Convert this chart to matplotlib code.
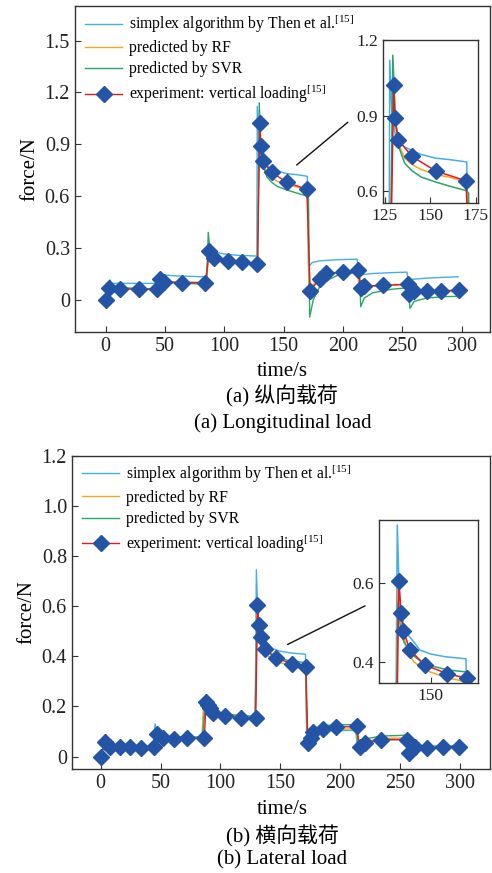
import matplotlib
matplotlib.use("Agg")
import matplotlib.pyplot as plt
from matplotlib.patches import ConnectionPatch

plt.rcParams['font.family'] = ['Liberation Serif', 'Noto Sans CJK SC']
plt.rcParams['mathtext.fontset'] = 'custom'
plt.rcParams['mathtext.rm'] = 'Liberation Serif'

# ---- (a) longitudinal load ----
exp_t_a = [0, 2.5, 12, 28, 43, 46, 49, 64, 84, 87.5, 91, 103, 115, 128, 130, 130.6, 132.5, 140, 153, 169.6,
           172.4, 180.5, 186, 200, 213, 215, 218, 234, 255, 256, 260, 271, 283, 298]
exp_f_a = [0, 0.068, 0.062, 0.062, 0.062, 0.122, 0.104, 0.100, 0.100, 0.283, 0.240, 0.226, 0.220, 0.207,
           1.023, 0.890, 0.803, 0.737, 0.679, 0.640, 0.052, 0.122, 0.153, 0.159, 0.170, 0.068, 0.080,
           0.083, 0.091, 0.033, 0.048, 0.052, 0.052, 0.056]

simp_t_a = [0, 3, 43, 45, 50, 60, 85, 87, 90, 100, 110, 127.5, 127.8, 129, 131, 133, 136, 140, 145, 153, 160,
            170, 171, 174, 180, 195, 212, 213, 216, 225, 240, 254, 255, 258, 270, 285, 297]
simp_f_a = [0, 0.095, 0.095, 0.155, 0.143, 0.138, 0.133, 0.30, 0.28, 0.265, 0.258, 0.253, 1.12, 0.90, 0.82,
            0.79, 0.775, 0.76, 0.745, 0.73, 0.725, 0.715, 0.19, 0.215, 0.225, 0.232, 0.235, 0.13, 0.145,
            0.152, 0.157, 0.16, 0.11, 0.118, 0.125, 0.13, 0.133]

rf_t_a = [0, 3, 10, 43, 45, 50, 85, 87, 90, 100, 128, 129.5, 131, 133, 136, 140, 145, 153, 160, 170, 171.5,
          174, 180, 190, 212, 214, 218, 235, 255, 256.5, 260, 275, 297]
rf_f_a = [0, 0.07, 0.065, 0.058, 0.11, 0.105, 0.098, 0.28, 0.25, 0.228, 0.21, 1.0, 0.86, 0.78, 0.73, 0.705,
          0.685, 0.665, 0.655, 0.635, 0.03, 0.08, 0.125, 0.155, 0.165, 0.06, 0.075, 0.082, 0.088, 0.03,
          0.04, 0.045, 0.048]

svr_t_a = [0, 2, 3.5, 6, 15, 43, 45, 48, 85, 86.5, 88, 91, 100, 128, 129.5, 131, 133, 136, 140, 145, 153, 160,
           170, 171, 172, 175, 180, 186, 195, 212, 214, 215, 218, 225, 240, 255, 256.5, 260, 270, 285, 297]
svr_f_a = [0, 0.06, 0.115, 0.08, 0.07, 0.06, 0.11, 0.10, 0.09, 0.39, 0.28, 0.235, 0.22, 0.205, 1.14, 0.88,
           0.77, 0.71, 0.68, 0.655, 0.635, 0.62, 0.60, 0.59, -0.10, 0.0, 0.07, 0.11, 0.14, 0.16, 0.16,
           -0.04, 0.01, 0.04, 0.06, 0.07, -0.05, -0.01, 0.01, 0.018, 0.02]

# ---- (b) lateral load ----
exp_t_b = [0, 3.9, 8, 15.9, 24.2, 33.4, 44.5, 46.8, 52, 61, 72.4, 86.6, 88, 89.7, 91.6, 94.1, 104.2, 117.5,
           129.5, 130.9, 132.3, 133.7, 137.6, 146.5, 159.8, 171.3, 173, 175.2, 177.4, 185.2, 196.6, 213.9,
           216.1, 220.8, 233.9, 255.6, 257.6, 262.3, 272, 285.5, 299]
exp_f_b = [0, 0.06, 0.04, 0.039, 0.039, 0.036, 0.039, 0.092, 0.075, 0.072, 0.074, 0.074, 0.218, 0.205, 0.194,
           0.174, 0.16, 0.154, 0.154, 0.604, 0.523, 0.478, 0.43, 0.392, 0.371, 0.359, 0.056, 0.074, 0.099,
           0.111, 0.118, 0.12, 0.04, 0.055, 0.068, 0.068, 0.016, 0.038, 0.034, 0.038, 0.038]

simp_t_b = [0, 3, 10, 44, 45.5, 47, 52, 85, 86.5, 90, 100, 129, 130, 131, 132, 134, 137, 140, 143.5, 150,
            159, 171, 172, 175, 180, 190, 213, 214, 218, 230, 255, 256.5, 260, 275, 298]
simp_f_b = [0, 0.05, 0.04, 0.04, 0.13, 0.09, 0.08, 0.075, 0.2, 0.18, 0.165, 0.155, 0.745, 0.60, 0.53, 0.49,
            0.465, 0.45, 0.43, 0.42, 0.413, 0.408, 0.06, 0.085, 0.095, 0.103, 0.105, 0.045, 0.055, 0.065,
            0.068, 0.02, 0.03, 0.035, 0.038]

rf_t_b = [0, 3, 10, 44, 46, 50, 84.5, 86, 90, 100, 129, 130.5, 132, 134, 137, 140, 146, 160, 171, 172.5, 175,
          180, 190, 213, 215, 220, 235, 255, 257, 262, 280, 298]
rf_f_b = [0, 0.05, 0.04, 0.038, 0.085, 0.078, 0.075, 0.21, 0.19, 0.17, 0.155, 0.6, 0.52, 0.46, 0.42, 0.40,
          0.38, 0.36, 0.35, 0.05, 0.055, 0.09, 0.105, 0.112, 0.045, 0.06, 0.072, 0.075, 0.025, 0.032,
          0.035, 0.036]

svr_t_b = [0, 3, 10, 44, 46, 50, 85, 87, 90, 100, 129, 130.5, 132, 134, 137, 140, 146, 160, 171, 172.5, 175,
           180, 190, 213, 215, 220, 235, 255, 257, 262, 280, 298]
svr_f_b = [0, 0.05, 0.04, 0.04, 0.08, 0.078, 0.078, 0.19, 0.18, 0.17, 0.16, 0.55, 0.48, 0.45, 0.43, 0.415,
           0.395, 0.38, 0.375, 0.07, 0.09, 0.11, 0.125, 0.128, 0.055, 0.07, 0.082, 0.085, 0.035, 0.04,
           0.042, 0.043]

labels = ['simplex algorithm by Then et al.$^{[15]}$', 'predicted by RF', 'predicted by SVR',
          'experiment: vertical loading$^{[15]}$']

c_simp = '#45aee8'
c_rf = '#f5a623'
c_svr = '#2ba56a'
c_exp = '#e8191e'
c_mk = '#2454a6'
spine_c = '#333333'


def draw(ax, d, lw=1.0, ms=8):
    ax.plot(d[0], d[1], color=c_simp, lw=lw)
    ax.plot(d[2], d[3], color=c_rf, lw=lw)
    ax.plot(d[4], d[5], color=c_svr, lw=lw)
    ax.plot(d[6], d[7], color=c_exp, lw=lw, marker='D', ms=ms, mfc=c_mk, mec=c_mk)


def style(ax, fs=13):
    for s in ax.spines.values():
        s.set_color(spine_c)
        s.set_linewidth(1.0)
    ax.tick_params(direction='in', length=4, labelsize=fs, colors=spine_c, labelcolor='#222222')


def legend(ax):
    ax.legend(labels, loc='upper left', bbox_to_anchor=(0.01, 1.0), frameon=False, fontsize=11.3,
              handlelength=2.35, labelspacing=0.33, borderaxespad=0, handletextpad=0.45)


fig = plt.figure(figsize=(4.92, 8.73), dpi=100)

data_a = [simp_t_a, simp_f_a, rf_t_a, rf_f_a, svr_t_a, svr_f_a, exp_t_a, exp_f_a]
data_b = [simp_t_b, simp_f_b, rf_t_b, rf_f_b, svr_t_b, svr_f_b, exp_t_b, exp_f_b]

# top panel
ax1 = fig.add_axes([0.152, 0.620, 0.844, 0.373])
draw(ax1, data_a)
ax1.set_xlim(-26, 324)
ax1.set_ylim(-0.185, 1.70)
ax1.set_xticks([0, 50, 100, 150, 200, 250, 300])
ax1.set_yticks([0, 0.3, 0.6, 0.9, 1.2, 1.5])
ax1.set_yticklabels(['0', '0.3', '0.6', '0.9', '1.2', '1.5'])
style(ax1, 14.5)
ax1.set_ylabel('force/N', fontsize=15, labelpad=4)
legend(ax1)

in1 = fig.add_axes([0.778, 0.767, 0.193, 0.187])
draw(in1, data_a, lw=1.1, ms=8.5)
in1.set_xlim(124, 176)
in1.set_ylim(0.55, 1.2)
in1.set_xticks([125, 150, 175])
in1.set_yticks([0.6, 0.9, 1.2])
style(in1, 12.5)

con1 = ConnectionPatch(xyA=(161, 0.78), coordsA=ax1.transData,
                       xyB=(0.707, 0.860), coordsB='figure fraction', color='#111111', lw=1.0)
fig.add_artist(con1)

fig.text(0.574, 0.575, 'time/s', ha='center', va='center', fontsize=15)
fig.text(0.574, 0.5456, '(a) 纵向载荷', ha='center', va='center', fontsize=15)
fig.text(0.574, 0.515, '(a) Longitudinal load', ha='center', va='center', fontsize=15)

# bottom panel
ax2 = fig.add_axes([0.146, 0.119, 0.850, 0.359])
draw(ax2, data_b)
ax2.set_xlim(-24, 325)
ax2.set_ylim(-0.05, 1.2)
ax2.set_xticks([0, 50, 100, 150, 200, 250, 300])
ax2.set_yticks([0, 0.2, 0.4, 0.6, 0.8, 1.0, 1.2])
ax2.set_yticklabels(['0', '0.2', '0.4', '0.6', '0.8', '1.0', '1.2'])
style(ax2, 14.5)
ax2.set_ylabel('force/N', fontsize=15, labelpad=4)
legend(ax2)

in2 = fig.add_axes([0.770, 0.2176, 0.201, 0.187])
draw(in2, data_b, lw=1.1, ms=8.5)
in2.set_xlim(119, 178)
in2.set_ylim(0.347, 0.758)
in2.set_xticks([150])
in2.set_yticks([0.4, 0.6])
style(in2, 12.5)

con2 = ConnectionPatch(xyA=(156, 0.447), coordsA=ax2.transData,
                       xyB=(0.742, 0.306), coordsB='figure fraction', color='#111111', lw=1.0)
fig.add_artist(con2)

fig.text(0.574, 0.073, 'time/s', ha='center', va='center', fontsize=15)
fig.text(0.574, 0.0416, '(b) 横向载荷', ha='center', va='center', fontsize=15)
fig.text(0.574, 0.0149, '(b) Lateral load', ha='center', va='center', fontsize=15)

fig.savefig('out.png', dpi=100)
